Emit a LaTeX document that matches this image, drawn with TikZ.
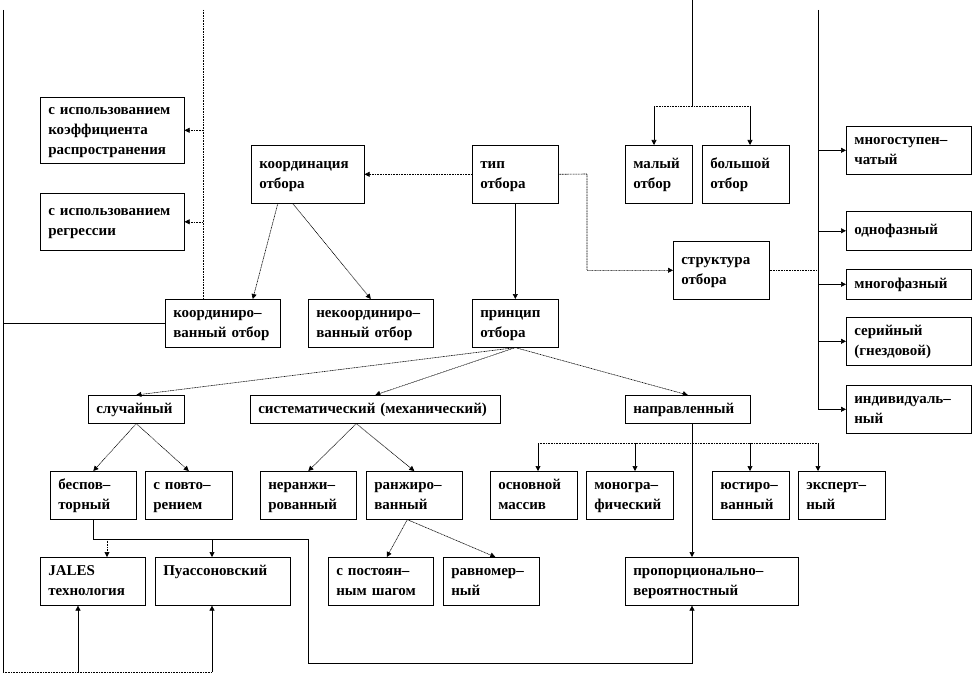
\documentclass[tikz,border=0pt]{standalone}
\usepackage{fontspec}
\setmainfont{Liberation Serif}
\usetikzlibrary{arrows.meta}

\tikzset{
  blk/.style 2 args={draw, line width=0.6pt, anchor=north west, inner xsep=8pt, inner ysep=2pt,
    text width=#1pt, minimum height=#2pt, align=left, font=\bfseries\fontsize{15}{20}\selectfont,
    execute at begin node={\strut}, execute at end node={\strut}},
  con/.style={line width=0.6pt},
  arr/.style={con, -{Triangle[width=5pt,length=5pt]}},
  dt/.style={dash pattern=on 1pt off 0.6pt},
}

\begin{document}
\begin{tikzpicture}[x=1pt, y=-1pt]
\useasboundingbox (0,0) rectangle (974,674);
%
% boxes
\node[blk={128}{66}] (kr) at (40,97) {с использованием\\ коэффициента\\ распространения};
\node[blk={128}{57}] (rg) at (40,193) {с использованием\\ регрессии};
\node[blk={97}{58}] (kord) at (251,145) {координация\\ отбора};
\node[blk={70}{58}] (tip) at (472,145) {тип\\ отбора};
\node[blk={51}{58}] (mal) at (625,145) {малый\\ отбор};
\node[blk={71}{58}] (bol) at (702,145) {большой\\ отбор};
\node[blk={109}{48}] (mst) at (846,126) {многоступен–\\ чатый};
\node[blk={109}{39}] (odn) at (846,211) {однофазный};
\node[blk={109}{30}] (mnf) at (846,269) {многофазный};
\node[blk={109}{48}] (ser) at (846,317) {серийный\\ (гнездовой)};
\node[blk={109}{48}] (ind) at (846,385) {индивидуаль–\\ ный};
\node[blk={80}{58}] (str) at (673,241) {структура\\ отбора};
\node[blk={99}{48}] (kdv) at (165,299) {координиро–\\ ванный отбор};
\node[blk={109}{48}] (nkv) at (308,299) {некоординиро–\\ ванный отбор};
\node[blk={70}{48}] (prn) at (472,299) {принцип\\ отбора};
\node[blk={80}{28}] (sl) at (88,395) {случайный};
\node[blk={234}{28}] (sis) at (250,395) {систематический (механический)};
\node[blk={109}{28}] (npr) at (625,395) {направленный};
\node[blk={70}{48}] (bpv) at (50,471) {беспов–\\ торный};
\node[blk={71}{48}] (spv) at (145,471) {с повто–\\ рением};
\node[blk={80}{48}] (nrz) at (260,471) {неранжи–\\ рованный};
\node[blk={80}{48}] (rnz) at (366,471) {ранжиро–\\ ванный};
\node[blk={71}{48}] (osn) at (490,471) {основной\\ массив};
\node[blk={71}{48}] (mng) at (586,471) {моногра–\\ фический};
\node[blk={61}{48}] (yus) at (712,471) {юстиро–\\ ванный};
\node[blk={71}{48}] (eks) at (798,471) {эксперт–\\ ный};
\node[blk={89}{48}] (jal) at (40,557) {JALES\\ технология};
\node[blk={119}{48}] (pua) at (155,557) {Пуассоновский\\ \mbox{}};
\node[blk={89}{48}] (psh) at (328,557) {с постоян–\\ ным шагом};
\node[blk={80}{48}] (rvm) at (443,557) {равномер–\\ ный};
\node[blk={157}{48}] (ppv) at (625,557) {пропорционально–\\ вероятностный};
%
% free ends
\coordinate (lt) at (3,10);
\coordinate (lb) at (3,672);
\coordinate (b1) at (78,672);
\coordinate (b2) at (212,672);
\coordinate (vt) at (203,10);
\coordinate (sx) at (587,174);
\coordinate (tt) at (692,0);
\coordinate (tb) at (692,106);
\coordinate (t1) at (654,106);
\coordinate (t2) at (750,106);
\coordinate (rt) at (818,10);
\coordinate (nx) at (692,423);
\coordinate (h1) at (538,443);
\coordinate (h2) at (635,443);
\coordinate (h3) at (750,443);
\coordinate (h4) at (818,443);
\coordinate (j1) at (107,539);
\coordinate (j2) at (212,539);
\coordinate (j3) at (308,539);
\coordinate (j4) at (308,663);
\coordinate (j5) at (692,663);
%
% left frame
\draw[con] (lt) -- (lb);
\draw[con] (lt |- kdv.west) -- (kdv.west);
\draw[con, dt] (lb) -- (b2);
\draw[arr] (b1) -- (b1 |- jal.south);
\draw[arr] (b2) -- (b2 |- pua.south);
\draw[con, dt] (vt) -- (vt |- kdv.north);
\draw[arr, dt] (vt |- kr.east) -- (kr.east);
\draw[arr, dt] (vt |- rg.east) -- (rg.east);
%
% top part
\draw[arr, dt] (tip.west) -- (kord.east);
\draw[arr, dt] (tip.east) -- (sx) -- (sx |- str.west) -- (str.west);
\draw[arr] (tip.south) -- (prn.north);
\draw[con] (tt) -- (tb);
\draw[con, dt] (t1) -- (t2);
\draw[arr] (t1) -- (t1 |- mal.north);
\draw[arr] (t2) -- (t2 |- bol.north);
\draw[arr, dt] ([xshift=-30pt]kord.south) -- ([xshift=30pt]kdv.north);
\draw[arr, dt] ([xshift=-15pt]kord.south) -- (nkv.north);
%
% right bar
\draw[con] (rt) -- (rt |- ind.west);
\draw[con, dt] (str.east) -- (rt |- str.east);
\foreach \b in {mst, odn, mnf, ser, ind}
  \draw[arr] (rt |- \b.west) -- (\b.west);
%
% principle
\draw[arr, dt] (prn.south) -- (sl.north);
\draw[arr, dt] (prn.south) -- (sis.north);
\draw[arr, dt] (prn.south) -- (npr.north);
\draw[arr, dt] (sl.south) -- (bpv.north);
\draw[arr, dt] (sl.south) -- (spv.north);
\draw[arr, dt] ([xshift=-19pt]sis.south) -- (nrz.north);
\draw[arr, dt] ([xshift=-19pt]sis.south) -- (rnz.north);
\draw[arr, dt] ([xshift=-7pt]rnz.south) -- ([xshift=6pt]psh.north);
\draw[arr, dt] ([xshift=-7pt]rnz.south) -- ([xshift=4pt]rvm.north);
%
% directed
\draw[arr] (nx) -- (nx |- ppv.north);
\draw[con, dt] (h1) -- (h4);
\foreach \h/\b in {h1/osn, h2/mng, h3/yus, h4/eks}
  \draw[arr] (\h) -- (\h |- \b.north);
%
% bottom route
\draw[arr] (bpv.south) -- (bpv.south |- j3) -- (j3) -- (j4) -- (j5) -- (j5 |- ppv.south);
\draw[arr, dt] (j1) -- (j1 |- jal.north);
\draw[arr] (j2) -- (j2 |- pua.north);
%
\end{tikzpicture}
\end{document}
